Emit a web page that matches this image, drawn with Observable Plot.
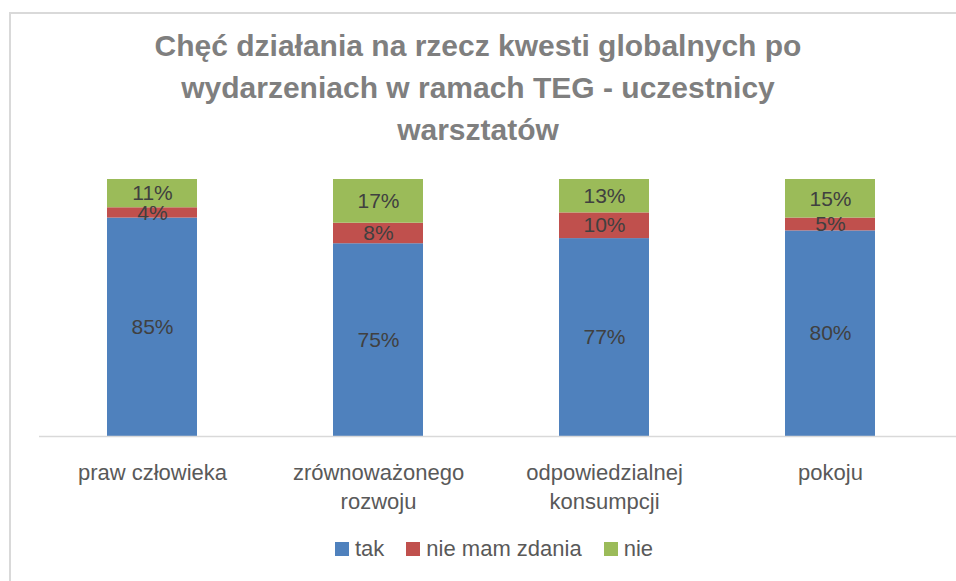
<!DOCTYPE html>
<html>
<head>
<meta charset="utf-8">
<script src="https://cdn.jsdelivr.net/npm/d3@7"></script>
<script src="https://cdn.jsdelivr.net/npm/@observablehq/plot@0.6"></script>
<style>
  body { margin: 0; background: #fff; font-family: "Liberation Sans", Arial, sans-serif; }
  #page { position: relative; width: 956px; height: 581px; overflow: hidden; }
  #frame { position: absolute; left: 9px; top: 12px; width: 990px; height: 620px;
           border-left: 2px solid #d9d9d9; border-top: 2px solid #d9d9d9; }
  #title { position: absolute; left: 0; top: 25px; width: 956px; text-align: center;
           font-weight: bold; font-size: 30px; line-height: 42px; color: #7f7f7f; }
  #chart { position: absolute; left: 0; top: 160px; }
  #legend { position: absolute; left: 32px; top: 537px; width: 924px; height: 24px;
            display: flex; justify-content: center; align-items: center;
            font-size: 22px; color: #595959; }
  .item { display: flex; align-items: center; margin: 0 11px; }
  .sw { width: 14px; height: 14px; margin-right: 6px; }
</style>
</head>
<body>
<div id="page">
  <div id="frame"></div>
  <div id="title">Chęć działania na rzecz kwesti globalnych po<br>wydarzeniach w ramach TEG - uczestnicy<br>warsztatów</div>
  <div id="chart"></div>
  <div id="legend"></div>
</div>
<script>
const categories = ["praw człowieka", "zrównoważonego rozwoju", "odpowiedzialnej konsumpcji", "pokoju"];
const tickLabels = ["praw człowieka", "zrównoważonego\nrozwoju", "odpowiedzialnej\nkonsumpcji", "pokoju"];
const series = ["tak", "nie mam zdania", "nie"];
const tak = [85, 75, 77, 80];
const nieMamZdania = [4, 8, 10, 5];
const nie = [11, 17, 13, 15];
const colors = ["#4f81bd", "#c0504d", "#9bbb59"];

const valuesBySeries = [tak, nieMamZdania, nie];
const data = [];
series.forEach((s, si) => {
  categories.forEach((c, ci) => {
    data.push({category: c, series: s, value: valuesBySeries[si][ci]});
  });
});

const chart = Plot.plot({
  width: 956,
  height: 360,
  marginTop: 19,
  marginBottom: 84,
  marginLeft: 39,
  marginRight: 0,
  style: {fontFamily: "'Liberation Sans', Arial, sans-serif", color: "#595959", background: "transparent"},
  x: {domain: categories, paddingInner: 0.6, paddingOuter: 0.3, insetRight: 13, label: null},
  y: {domain: [0, 100], axis: null},
  color: {domain: series, range: colors},
  marks: [
    Plot.barY(data, {x: "category", y: "value", fill: "series"}),
    Plot.text(data, Plot.stackY({x: "category", y: "value", text: d => d.value + "%", fill: "#404040", fontSize: 21})),
    Plot.ruleY([0], {stroke: "#d9d9d9", strokeWidth: 1.5}),
    Plot.axisX({tickSize: 0, tickPadding: 22, fontSize: 22, lineHeight: 1.35,
                tickFormat: d => tickLabels[categories.indexOf(d)], label: null})
  ]
});
document.getElementById("chart").appendChild(chart);

const legend = document.getElementById("legend");
series.forEach((s, i) => {
  const item = document.createElement("div");
  item.className = "item";
  const sw = document.createElement("span");
  sw.className = "sw";
  sw.style.background = colors[i];
  const label = document.createElement("span");
  label.textContent = s;
  item.appendChild(sw);
  item.appendChild(label);
  legend.appendChild(item);
});
</script>
</body>
</html>
